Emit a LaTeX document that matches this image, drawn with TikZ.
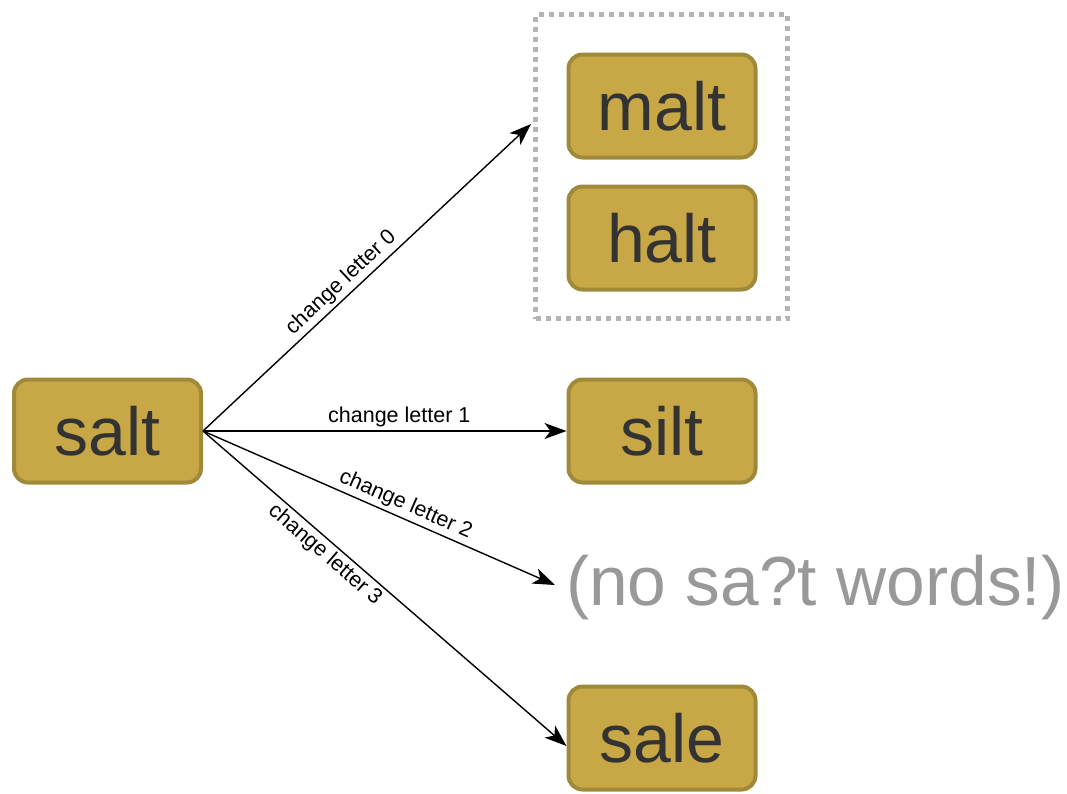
\documentclass[tikz,border=0pt]{standalone}
\usepackage{fontspec}
\setmainfont{Liberation Sans}
\usetikzlibrary{arrows.meta}
\definecolor{boxfill}{HTML}{C8A846}
\definecolor{boxline}{HTML}{A08A3A}
\definecolor{boxtext}{HTML}{333333}
\definecolor{groupline}{HTML}{B4B4B4}
\definecolor{notetext}{HTML}{999999}
\tikzset{
  word/.style={draw=boxline, fill=boxfill, line width=4pt, rounded corners=14pt,
    minimum width=187pt, minimum height=103pt, inner sep=0pt,
    text=boxtext, font=\fontsize{68}{80}\selectfont},
  grp/.style={draw=groupline, line width=5pt, dash pattern=on 5pt off 5pt,
    minimum width=252pt, minimum height=304pt, inner sep=0pt},
  edge/.style={line width=1.4pt, -{Stealth[length=22pt,width=16pt,inset=6pt]}},
  lbl/.style={font=\fontsize{21.5}{24}\selectfont, sloped, inner sep=3pt},
  note/.style={text=notetext, font=\fontsize{69.5}{80}\selectfont, inner sep=0pt, anchor=west}
}
\begin{document}
\begin{tikzpicture}[x=1pt,y=-1pt]
\useasboundingbox (0,0) rectangle (1067,793);
\node[grp] (group) at (661.5,166.5) {};
\node[word] (salt) at (107.5,431) {salt};
\node[word] (malt) at (662,106) {malt};
\node[word] (halt) at (662,238) {halt};
\node[word] (silt) at (662,431) {silt};
\node[word] (sale) at (662,738) {sale};
\node[note] (none) at (566,588) {(no sa?t words!)};
\coordinate (gin) at (531,124);
\draw[edge] (salt.east) -- node[lbl, above, pos=0.45] {change letter 0} (gin);
\draw[edge] (salt.east) -- node[lbl, above, pos=0.54] {change letter 1} (silt.west);
\draw[edge] (salt.east) -- node[lbl, above, pos=0.56] {change letter 2} ([xshift=-11pt,yshift=3pt]none.west);
\draw[edge] (salt.east) -- node[lbl, below, pos=0.36] {change letter 3} ([yshift=-8pt]sale.west);
\end{tikzpicture}
\end{document}
